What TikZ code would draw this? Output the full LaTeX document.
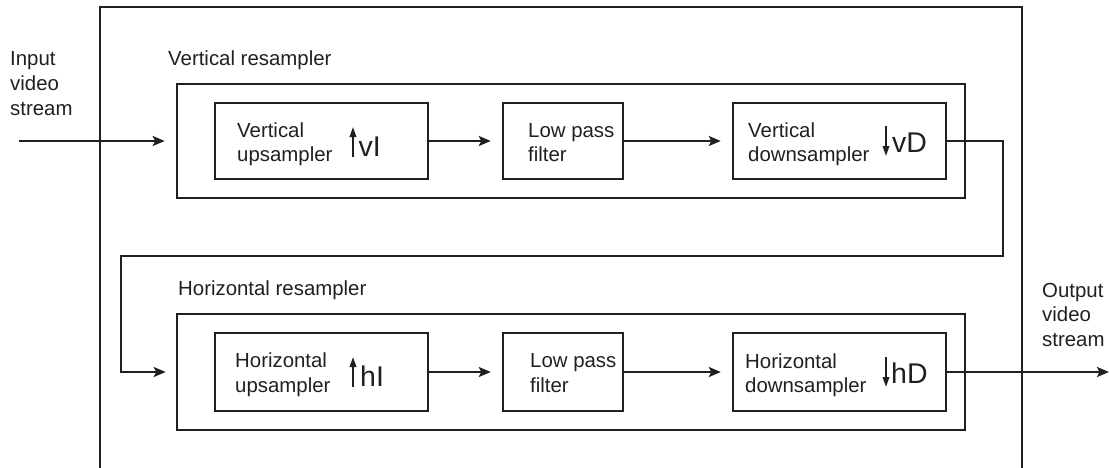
\documentclass[tikz,border=0pt]{standalone}
\usepackage{fontspec}
\setmainfont{Liberation Sans}
\usetikzlibrary{arrows.meta}
\definecolor{ink}{RGB}{35,31,32}
\begin{document}
\begin{tikzpicture}[x=1pt,y=-1pt,
  blk/.style={draw=ink, line width=2.4pt, inner sep=0pt, rectangle},
  txt/.style={anchor=base west, inner sep=0pt, text=ink, font=\fontsize{20.4}{24}\selectfont},
  sym/.style={anchor=base west, inner sep=0pt, text=ink, font=\fontsize{28.5}{32}\selectfont},
  flow/.style={draw=ink, line width=2.3pt, -{Stealth[length=12pt,width=10pt,inset=2.5pt]}, shorten >=11pt},
  link/.style={draw=ink, line width=1.9pt, -{Stealth[length=12pt,width=10pt,inset=2.5pt]}, shorten >=10pt},
  symarr/.style={draw=ink, line width=1.8pt, -{Triangle[length=10pt,width=6.5pt]}}]
\useasboundingbox (0,0) rectangle (1109,467);
% outer frame (open at the bottom)
\draw[ink, line width=2.6pt] (100,468) -- (100,7) -- (1022,7) -- (1022,468);
% resampler boxes
\node[blk, line width=2.6pt, minimum width=788pt, minimum height=114pt] (vres) at (571,141) {};
\node[blk, line width=2.6pt, minimum width=788pt, minimum height=116pt] (hres) at (571,372) {};
% inner blocks
\node[blk, minimum width=213pt, minimum height=76pt] (vup) at (321.5,141) {};
\node[blk, minimum width=120pt, minimum height=76pt] (vlp) at (563,141) {};
\node[blk, minimum width=213pt, minimum height=76pt] (vdown) at (839.5,141) {};
\node[blk, minimum width=213pt, minimum height=78pt] (hup) at (321.5,372) {};
\node[blk, minimum width=120pt, minimum height=78pt] (hlp) at (563,372) {};
\node[blk, minimum width=213pt, minimum height=78pt] (hdown) at (839.5,372) {};
% labels
\node[txt] (inl1) at (10,65) {Input};
\node[txt] (inl2) at (10,90) {video};
\node[txt] (inl3) at (10,115) {stream};
\node[txt] (outl1) at (1042,297) {Output};
\node[txt] (outl2) at (1042,321.5) {video};
\node[txt] (outl3) at (1042,346) {stream};
\node[txt] (vresl) at (168,65) {Vertical resampler};
\node[txt] (hresl) at (178,295) {Horizontal resampler};
\node[txt] (vup1) at (237,137) {Vertical};
\node[txt] (vup2) at (237,161) {upsampler};
\node[txt] (vlp1) at (528,137) {Low pass};
\node[txt] (vlp2) at (528,161) {filter};
\node[txt] (vdn1) at (748,137) {Vertical};
\node[txt] (vdn2) at (748,161) {downsampler};
\node[txt] (hup1) at (235,367) {Horizontal};
\node[txt] (hup2) at (235,392) {upsampler};
\node[txt] (hlp1) at (530,367) {Low pass};
\node[txt] (hlp2) at (530,392) {filter};
\node[txt] (hdn1) at (745,368) {Horizontal};
\node[txt] (hdn2) at (745,392) {downsampler};
% sampling symbols
\node[sym] (vIs) at (358.5,156) {vI};
\draw[symarr] (353,157) -- (353,127);
\node[sym] (vDs) at (892,152) {vD};
\draw[symarr] (886,126) -- (886,156);
\node[sym] (hIs) at (360,386) {hI};
\draw[symarr] (353,387) -- (353,357);
\node[sym] (hDs) at (891,383) {hD};
\draw[symarr] (886,357) -- (886,387);
% connectors
\coordinate (in) at (19,141);
\coordinate (out) at (1109,372);
\coordinate (r1) at (1003,256);
\coordinate (l1) at (121,256);
\draw[flow] (in) -- (vres.west);
\draw[flow] (vup.east) -- (vlp.west);
\draw[flow] (vlp.east) -- (vdown.west);
\draw[link] (vdown.east) -| (r1) -- (l1) |- (hres.west);
\draw[flow] (hup.east) -- (hlp.west);
\draw[flow] (hlp.east) -- (hdown.west);
\draw[flow, shorten >=0pt] (hdown.east) -- (out);
\end{tikzpicture}
\end{document}
